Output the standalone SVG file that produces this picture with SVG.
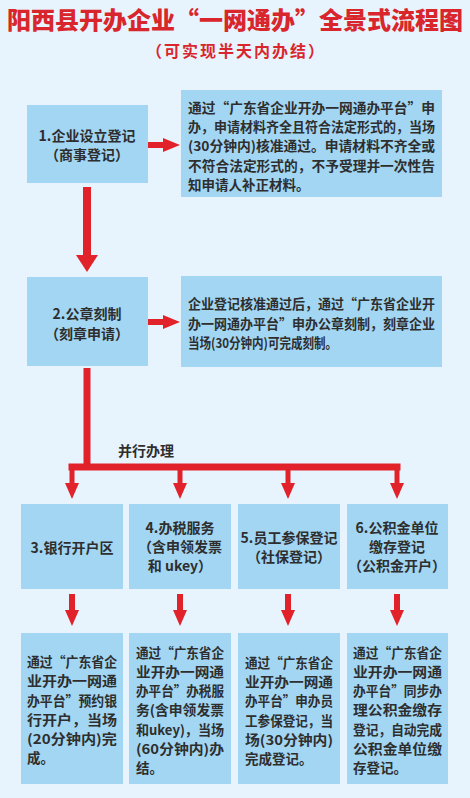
<svg xmlns="http://www.w3.org/2000/svg" width="470" height="798" viewBox="0 0 470 798">
<defs>
<style>
text{font-family:"Noto Sans CJK SC","Noto Sans",sans-serif;font-weight:bold;fill:#2e2e2e;dominant-baseline:central}
.title{fill:#d9262c;font-size:24px;font-weight:900;text-anchor:middle}
.sub{fill:#d9262c;font-size:16px;text-anchor:middle;letter-spacing:2px}
.box{fill:#a2d6f3}
.nt{font-size:14px;text-anchor:middle}
.dt{font-size:13.5px}
.conn{stroke:#e2222a;fill:none}
</style>
<marker id="hBig" markerUnits="userSpaceOnUse" markerWidth="17" markerHeight="22" refX="0" refY="11" orient="auto" viewBox="0 0 17 22"><path d="M0,0 L17,11 L0,22 z" fill="#e2222a"/></marker>
<marker id="hRight" markerUnits="userSpaceOnUse" markerWidth="17" markerHeight="14" refX="0" refY="7" orient="auto" viewBox="0 0 17 14"><path d="M0,0 L17,7 L0,14 z" fill="#e2222a"/></marker>
<marker id="hDown" markerUnits="userSpaceOnUse" markerWidth="16" markerHeight="14" refX="0" refY="7" orient="auto" viewBox="0 0 16 14"><path d="M0,0 L16,7 L0,14 z" fill="#e2222a"/></marker>
</defs>
<rect x="0" y="0" width="470" height="798" fill="#e8f4fd"/>
<text class="title" x="235" y="18">阳西县开办企业“一网通办”全景式流程图</text>
<text class="sub" x="236" y="50">（可实现半天内办结）</text>

<g id="connectors">
<line class="conn" x1="87" y1="187" x2="87" y2="255" stroke-width="8" marker-end="url(#hBig)"/>
<line class="conn" x1="148" y1="145" x2="163" y2="145" stroke-width="6" marker-end="url(#hRight)"/>
<line class="conn" x1="148" y1="322" x2="163" y2="322" stroke-width="6" marker-end="url(#hRight)"/>
<line class="conn" x1="87" y1="368" x2="87" y2="467" stroke-width="7"/>
<line class="conn" x1="68.5" y1="467" x2="400.5" y2="467" stroke-width="7"/>
<line class="conn" x1="72" y1="467" x2="72" y2="483" stroke-width="5" marker-end="url(#hDown)"/>
<line class="conn" x1="180" y1="467" x2="180" y2="483" stroke-width="5" marker-end="url(#hDown)"/>
<line class="conn" x1="288" y1="467" x2="288" y2="483" stroke-width="5" marker-end="url(#hDown)"/>
<line class="conn" x1="397" y1="467" x2="397" y2="483" stroke-width="5" marker-end="url(#hDown)"/>
<line class="conn" x1="72" y1="594" x2="72" y2="610" stroke-width="6" marker-end="url(#hDown)"/>
<line class="conn" x1="180" y1="594" x2="180" y2="610" stroke-width="6" marker-end="url(#hDown)"/>
<line class="conn" x1="288" y1="594" x2="288" y2="610" stroke-width="6" marker-end="url(#hDown)"/>
<line class="conn" x1="397" y1="594" x2="397" y2="610" stroke-width="6" marker-end="url(#hDown)"/>
<text x="118" y="450" font-size="14">并行办理</text>
</g>

<g id="n1">
<rect class="box" x="27" y="105" width="121" height="78"/>
<text class="nt" x="87" y="135">1.企业设立登记</text>
<text class="nt" x="87" y="154">（商事登记）</text>
</g>
<g id="d1">
<rect class="box" x="181" y="90" width="261" height="107"/>
<text class="dt" x="188" y="107" textLength="247" lengthAdjust="spacingAndGlyphs">通过“广东省企业开办一网通办平台”申</text>
<text class="dt" x="188" y="126" textLength="247" lengthAdjust="spacingAndGlyphs">办，申请材料齐全且符合法定形式的，当场</text>
<text class="dt" x="188" y="145" textLength="247" lengthAdjust="spacingAndGlyphs">(30分钟内)核准通过。申请材料不齐全或</text>
<text class="dt" x="188" y="165" textLength="247" lengthAdjust="spacingAndGlyphs">不符合法定形式的，不予受理并一次性告</text>
<text class="dt" x="188" y="184">知申请人补正材料。</text>
</g>

<g id="n2">
<rect class="box" x="27" y="277" width="121" height="89"/>
<text class="nt" x="87" y="313">2.公章刻制</text>
<text class="nt" x="87" y="333">（刻章申请）</text>
</g>
<g id="d2">
<rect class="box" x="181" y="276" width="261" height="91"/>
<text class="dt" x="188" y="303" textLength="247" lengthAdjust="spacingAndGlyphs">企业登记核准通过后，通过“广东省企业开</text>
<text class="dt" x="188" y="323" textLength="247" lengthAdjust="spacingAndGlyphs">办一网通办平台”申办公章刻制，刻章企业</text>
<text class="dt" x="188" y="342" textLength="149" lengthAdjust="spacingAndGlyphs">当场(30分钟内)可完成刻制。</text>
</g>

<g id="n3">
<rect class="box" x="21" y="504" width="102" height="85"/>
<text class="nt" x="72" y="547">3.银行开户区</text>
</g>
<g id="n4">
<rect class="box" x="129" y="504" width="102" height="85"/>
<text class="nt" x="180" y="527">4.办税服务</text>
<text class="nt" x="180" y="546">（含申领发票</text>
<text class="nt" x="180" y="565">和 ukey）</text>
</g>
<g id="n5">
<rect class="box" x="238" y="504" width="102" height="85"/>
<text class="nt" x="289" y="537">5.员工参保登记</text>
<text class="nt" x="289" y="556">（社保登记）</text>
</g>
<g id="n6">
<rect class="box" x="347" y="504" width="101" height="85"/>
<text class="nt" x="397" y="527">6.公积金单位</text>
<text class="nt" x="397" y="546">缴存登记</text>
<text class="nt" x="397" y="565">（公积金开户）</text>
</g>

<g id="d3">
<rect class="box" x="21" y="633" width="102" height="151"/>
<text class="dt" x="27" y="661" textLength="90" lengthAdjust="spacingAndGlyphs">通过“广东省企</text>
<text class="dt" x="27" y="680" textLength="90" lengthAdjust="spacingAndGlyphs">业开办一网通</text>
<text class="dt" x="27" y="700" textLength="90" lengthAdjust="spacingAndGlyphs">办平台”预约银</text>
<text class="dt" x="27" y="719" textLength="90" lengthAdjust="spacingAndGlyphs">行开户，当场</text>
<text class="dt" x="27" y="738" textLength="90" lengthAdjust="spacingAndGlyphs">(20分钟内)完</text>
<text class="dt" x="27" y="757">成。</text>
</g>
<g id="d4">
<rect class="box" x="129" y="633" width="102" height="151"/>
<text class="dt" x="136" y="652" textLength="88" lengthAdjust="spacingAndGlyphs">通过“广东省企</text>
<text class="dt" x="136" y="671" textLength="88" lengthAdjust="spacingAndGlyphs">业开办一网通</text>
<text class="dt" x="136" y="690" textLength="88" lengthAdjust="spacingAndGlyphs">办平台”办税服</text>
<text class="dt" x="136" y="709" textLength="88" lengthAdjust="spacingAndGlyphs">务(含申领发票</text>
<text class="dt" x="136" y="729" textLength="88" lengthAdjust="spacingAndGlyphs">和ukey)，当场</text>
<text class="dt" x="136" y="748" textLength="88" lengthAdjust="spacingAndGlyphs">(60分钟内)办</text>
<text class="dt" x="136" y="767">结。</text>
</g>
<g id="d5">
<rect class="box" x="238" y="633" width="102" height="151"/>
<text class="dt" x="245" y="662" textLength="88" lengthAdjust="spacingAndGlyphs">通过“广东省企</text>
<text class="dt" x="245" y="681" textLength="88" lengthAdjust="spacingAndGlyphs">业开办一网通</text>
<text class="dt" x="245" y="700" textLength="88" lengthAdjust="spacingAndGlyphs">办平台”申办员</text>
<text class="dt" x="245" y="720" textLength="88" lengthAdjust="spacingAndGlyphs">工参保登记，当</text>
<text class="dt" x="245" y="739" textLength="88" lengthAdjust="spacingAndGlyphs">场(30分钟内)</text>
<text class="dt" x="245" y="758">完成登记。</text>
</g>
<g id="d6">
<rect class="box" x="347" y="633" width="101" height="151"/>
<text class="dt" x="353" y="652" textLength="89" lengthAdjust="spacingAndGlyphs">通过“广东省企</text>
<text class="dt" x="353" y="671" textLength="89" lengthAdjust="spacingAndGlyphs">业开办一网通</text>
<text class="dt" x="353" y="690" textLength="89" lengthAdjust="spacingAndGlyphs">办平台”同步办</text>
<text class="dt" x="353" y="709" textLength="89" lengthAdjust="spacingAndGlyphs">理公积金缴存</text>
<text class="dt" x="353" y="729" textLength="89" lengthAdjust="spacingAndGlyphs">登记，自动完成</text>
<text class="dt" x="353" y="748" textLength="89" lengthAdjust="spacingAndGlyphs">公积金单位缴</text>
<text class="dt" x="353" y="767">存登记。</text>
</g>
</svg>
